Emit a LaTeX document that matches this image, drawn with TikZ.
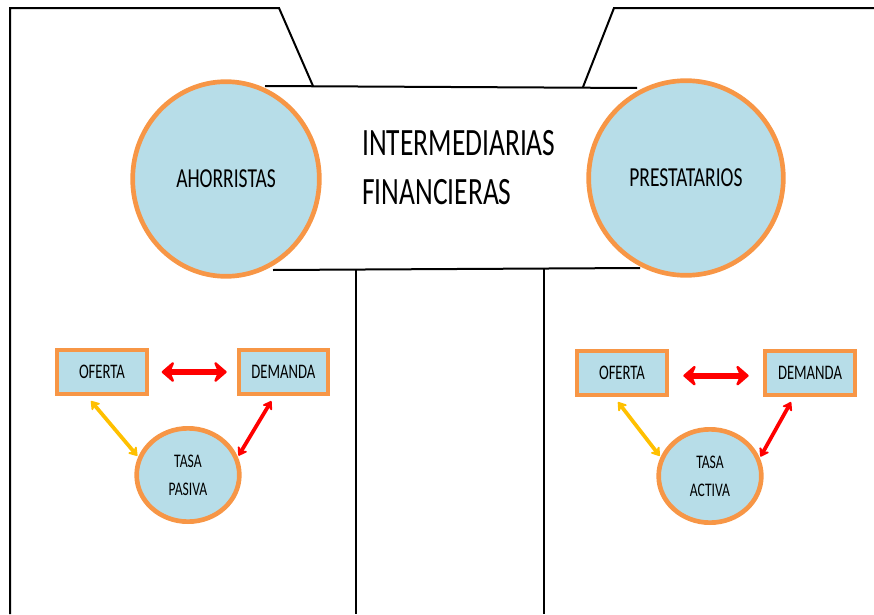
\documentclass[tikz,border=0pt]{standalone}
\usepackage{fontspec}
\setmainfont{Carlito}
\newfontfamily\condfont[FakeStretch=0.71]{Carlito}
\usetikzlibrary{positioning,arrows.meta,shapes.geometric}
\definecolor{agentfill}{HTML}{B7DDE8}
\definecolor{agentline}{HTML}{F79646}
\definecolor{linkred}{HTML}{FF0000}
\definecolor{linkyellow}{HTML}{FFC000}

\begin{document}
\begin{tikzpicture}[x=0.75pt,y=-0.75pt,
  wall/.style={line width=1.5pt},
  agent/.style={ellipse, draw=agentline, fill=agentfill, line width=3.5pt, inner sep=0pt,
    font=\condfont\fontsize{20.6}{24}\selectfont},
  market/.style={rectangle, draw=agentline, fill=agentfill, line width=3pt,
    minimum width=67pt, minimum height=33pt, inner sep=0pt,
    font=\condfont\fontsize{15.5}{18}\selectfont},
  rate/.style={ellipse, draw=agentline, fill=agentfill, line width=3.5pt,
    minimum width=77pt, minimum height=70pt, inner sep=0pt, align=center,
    font=\condfont\fontsize{14.4}{21}\selectfont},
  bigarrow/.style={linkred, line width=4.5pt,
    {Stealth[length=11pt,width=19pt,inset=4pt,round]}-{Stealth[length=11pt,width=19pt,inset=4pt,round]}},
  smallarrow/.style={line width=2.8pt, shorten >=1pt,
    {Stealth[length=7.5pt,width=10pt,inset=2.5pt,round]}-{Stealth[length=7.5pt,width=10pt,inset=2.5pt,round]}}]

  \useasboundingbox (0,0) rectangle (874,614);

  \draw[wall] (10,614) -- (10,8) -- (279,8) -- (313,86);
  \draw[wall] (583,87) -- (614,8) -- (874,8);
  \draw[wall] (265,86) -- (637,88);
  \draw[wall] (273,270) -- (640,268);
  \draw[wall] (356,270) -- (356,614);
  \draw[wall] (544,268) -- (544,614);

  \node[agent, minimum width=140pt, minimum height=146pt] (ahorro) at (226,179) {AHORRISTAS};
  \node[agent, minimum width=146pt, minimum height=146pt] (presta) at (686,178) {PRESTATARIOS};
  \node[anchor=base west, align=left, inner sep=0pt,
    font=\condfont\fontsize{29}{36.75}\selectfont] (interm) at (362,204) {INTERMEDIARIAS\\FINANCIERAS};

  \node[market] (ofertaL) at (102,372) {OFERTA};
  \node[market, right=66pt of ofertaL] (demandaL) {DEMANDA};
  \node[rate] (tasaL) at (188,475) {TASA\\PASIVA};

  \node[market] (ofertaR) at (622,373) {OFERTA};
  \node[market, right=71pt of ofertaR] (demandaR) {DEMANDA};
  \node[rate] (tasaR) at (710,476) {TASA\\ACTIVA};

  \draw[bigarrow, shorten <=9.75pt, shorten >=7.5pt] (ofertaL) -- (demandaL);
  \draw[smallarrow, linkyellow] ([shift={(-11,5)}]ofertaL.south) -- (tasaL.160);
  \draw[smallarrow, linkred] ([shift={(-12,5)}]demandaL.south) -- (tasaL.20);

  \draw[bigarrow, shorten <=11pt, shorten >=11pt] ([yshift=-2pt]ofertaR.east) -- ([yshift=-2pt]demandaR.west);
  \draw[smallarrow, linkyellow] ([shift={(-4,5)}]ofertaR.south) -- (tasaR.159);
  \draw[smallarrow, linkred] ([shift={(-19,5)}]demandaR.south) -- (tasaR.20);
\end{tikzpicture}
\end{document}
